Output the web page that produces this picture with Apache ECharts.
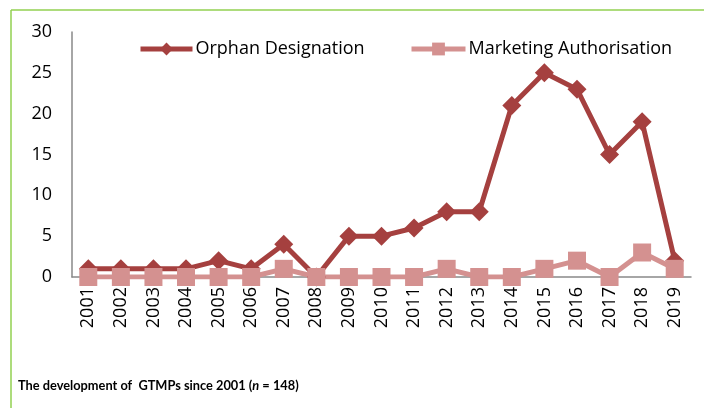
<!DOCTYPE html>
<html><head><meta charset="utf-8">
<script src="https://cdn.jsdelivr.net/npm/echarts@6/dist/echarts.min.js"></script>
<style>html,body{margin:0;padding:0;background:#fff}#c{width:704px;height:408px}</style>
</head><body><div id="c"></div>
<script>
const years = ['2001','2002','2003','2004','2005','2006','2007','2008','2009','2010','2011','2012','2013','2014','2015','2016','2017','2018','2019'];
const orphanDesignation = [1,1,1,1,2,1,4,0,5,5,6,8,8,21,25,23,15,19,2];
const marketingAuthorisation = [0,0,0,0,0,0,1,0,0,0,0,1,0,0,1,2,0,3,1];
const yTicks = [0,5,10,15,20,25,30];

const font = '"Open Sans", sans-serif';
const tfont = 'Lato, sans-serif';
const chart = echarts.init(document.getElementById('c'), null, {renderer:'canvas'});
chart.setOption({
  animation:false,
  backgroundColor:'#fff',
  graphic:[
    {type:'line', shape:{x1:11,y1:10,x2:704,y2:10}, style:{stroke:'#92D050', lineWidth:1.5}},
    {type:'line', shape:{x1:11,y1:10,x2:11,y2:408}, style:{stroke:'#92D050', lineWidth:1.5}},
    {type:'text', left:18, top:379, style:{
      text:'{b|The development of  GTMPs since 2001 (}{i|n}{b| = 148)}',
      rich:{
        b:{fontFamily:tfont, fontWeight:'bold', fontSize:12.8, fill:'#000'},
        i:{fontFamily:tfont, fontWeight:'bold', fontStyle:'italic', fontSize:12.8, fill:'#000'}
      }}}
  ],
  grid:{left:72, top:32, right:13, bottom:131, containLabel:false},
  legend:[
    {data:['Orphan Designation'], left:133, top:35, itemWidth:52, itemHeight:16,
     lineStyle:{width:5},
     textStyle:{fontSize:18, fontFamily:font, color:'#000', padding:[0,0,0,-2]}},
    {data:['Marketing Authorisation'], left:404, top:35, itemWidth:54, itemHeight:16,
     lineStyle:{width:5},
     textStyle:{fontSize:18, fontFamily:font, color:'#000', padding:[0,0,0,-2]}}
  ],
  xAxis:{type:'category', data:years, boundaryGap:true,
    axisLine:{lineStyle:{color:'#898989', width:1.5}}, axisTick:{show:false},
    axisLabel:{rotate:90, fontSize:18, fontFamily:font, color:'#000', margin:10, interval:0}},
  yAxis:{type:'value', min:0, max:30, interval:5,
    axisLine:{show:true, lineStyle:{color:'#898989', width:1.5}}, axisTick:{show:false},
    splitLine:{show:false},
    axisLabel:{fontSize:18, fontFamily:font, color:'#000', margin:20,
      formatter:v=>yTicks.includes(v)?String(v):''}},
  series:[
    {name:'Orphan Designation', type:'line', data:orphanDesignation,
     symbol:'diamond', symbolSize:19, color:'#A5403F',
     lineStyle:{width:5, color:'#A5403F'}, itemStyle:{color:'#A5403F'}},
    {name:'Marketing Authorisation', type:'line', data:marketingAuthorisation,
     symbol:'rect', symbolSize:18, color:'#D49190',
     lineStyle:{width:5, color:'#D49190'}, itemStyle:{color:'#D49190'}}
  ]
});
</script></body></html>
